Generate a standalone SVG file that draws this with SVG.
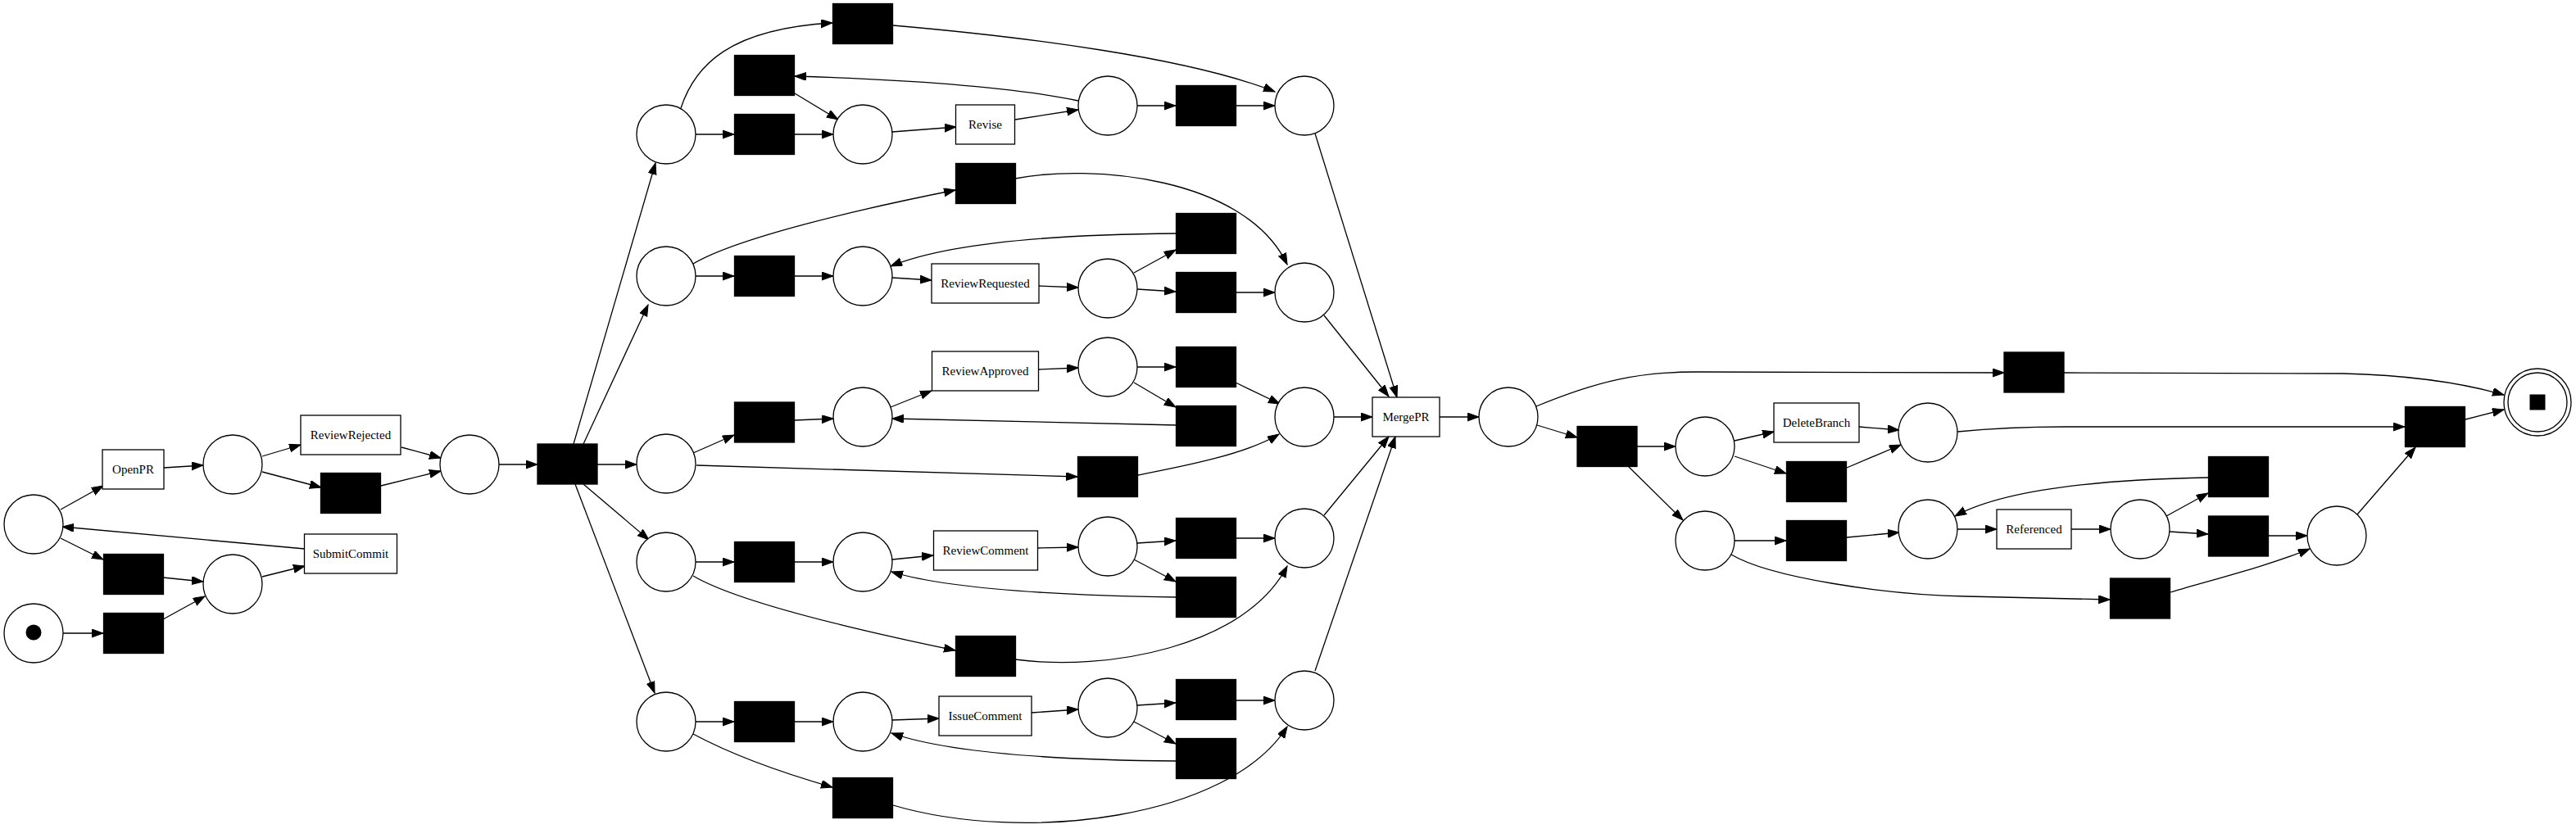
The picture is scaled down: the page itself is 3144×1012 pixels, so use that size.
<svg xmlns="http://www.w3.org/2000/svg" width="3144" height="1012" viewBox="0 0 3144 1012">
<style>
.p{fill:#fff;stroke:#000;stroke-width:1.3}
.t{fill:#fff;stroke:#000;stroke-width:1.3}
.s{fill:#000;stroke:#000;stroke-width:1.3}
.e{fill:none;stroke:#000;stroke-width:1.3;marker-end:url(#ah)}
text{font-family:"Liberation Serif","Times New Roman",serif;font-size:15px;text-anchor:middle;fill:#000}
</style>
<defs>
<marker id="ah" markerUnits="userSpaceOnUse" markerWidth="15" markerHeight="11" refX="14" refY="5" orient="auto">
<path d="M0,0 L14,5 L0,10 Z" fill="#000" stroke="#000" stroke-width="1"/>
</marker>
</defs>
<rect width="3144" height="1012" fill="#fff"/>
<g id="connectors">
<path class="e" d="M74,622 L126,593"/>
<path class="e" d="M200,571 L248,568"/>
<path class="e" d="M320,557 L367,543"/>
<path class="e" d="M320,576 L392,595"/>
<path class="e" d="M490,546 L538,559"/>
<path class="e" d="M465,593 L538,575"/>
<path class="e" d="M609,567 L656,567"/>
<path class="e" d="M372,670 L76,643"/>
<path class="e" d="M74,657 L126,683"/>
<path class="e" d="M199,705 L248,710"/>
<path class="e" d="M77,773 L126,773"/>
<path class="e" d="M199,756 L250,728"/>
<path class="e" d="M320,704 L372,691"/>
<path class="e" d="M700,542 L800,199"/>
<path class="e" d="M712,542 L791,372"/>
<path class="e" d="M729,567 L777,567"/>
<path class="e" d="M712,591 L792,659"/>
<path class="e" d="M702,591 L799,846"/>
<path class="e" d="M831,132 C848,80 890,35 1016,28"/>
<path class="e" d="M1090,31 C1250,45 1450,70 1556,112"/>
<path class="e" d="M849,164 L896,164"/>
<path class="e" d="M970,164 L1017,164"/>
<path class="e" d="M970,114 L1023,146"/>
<path class="e" d="M1316,123 C1230,105 1100,97 970,93"/>
<path class="e" d="M1089,161 L1167,155"/>
<path class="e" d="M1239,146 L1316,134"/>
<path class="e" d="M1388,129 L1435,129"/>
<path class="e" d="M1508,129 L1556,129"/>
<path class="e" d="M846,322 C900,290 1050,255 1166,232"/>
<path class="e" d="M1239,218 C1330,200 1520,215 1571,323"/>
<path class="e" d="M849,337 L896,337"/>
<path class="e" d="M970,337 L1017,337"/>
<path class="e" d="M1089,339 L1137,342"/>
<path class="e" d="M1268,349 L1316,351"/>
<path class="e" d="M1384,333 L1435,305"/>
<path class="e" d="M1388,353 L1435,356"/>
<path class="e" d="M1436,285 C1300,286 1160,295 1087,325"/>
<path class="e" d="M1508,357 L1556,357"/>
<path class="e" d="M1605,163 L1705,485"/>
<path class="e" d="M1616,385 L1695,484"/>
<path class="e" d="M846,553 L896,531"/>
<path class="e" d="M970,513 L1017,511"/>
<path class="e" d="M1087,497 L1137,477"/>
<path class="e" d="M1268,451 L1316,449"/>
<path class="e" d="M1388,448 L1435,448"/>
<path class="e" d="M1384,467 L1435,497"/>
<path class="e" d="M1436,519 L1089,511"/>
<path class="e" d="M1508,467 L1562,493"/>
<path class="e" d="M850,568 L1315,582"/>
<path class="e" d="M1389,580 C1440,570 1520,555 1561,530"/>
<path class="e" d="M1628,509 L1675,509"/>
<path class="e" d="M849,686 L896,686"/>
<path class="e" d="M970,686 L1017,686"/>
<path class="e" d="M1089,683 L1139,678"/>
<path class="e" d="M1266,669 L1316,668"/>
<path class="e" d="M1388,663 L1435,660"/>
<path class="e" d="M1384,683 L1435,710"/>
<path class="e" d="M1436,729 C1300,727 1160,720 1088,698"/>
<path class="e" d="M1508,657 L1556,657"/>
<path class="e" d="M846,703 C900,735 1050,770 1166,794"/>
<path class="e" d="M1239,805 C1350,820 1520,790 1571,691"/>
<path class="e" d="M1616,629 L1695,533"/>
<path class="e" d="M849,881 L896,881"/>
<path class="e" d="M970,881 L1017,881"/>
<path class="e" d="M1089,879 L1146,877"/>
<path class="e" d="M1259,870 L1316,866"/>
<path class="e" d="M1388,861 L1435,858"/>
<path class="e" d="M1384,881 L1435,908"/>
<path class="e" d="M1436,929 C1300,928 1160,920 1088,895"/>
<path class="e" d="M1508,855 L1556,855"/>
<path class="e" d="M846,896 C900,925 960,945 1016,961"/>
<path class="e" d="M1090,983 C1250,1030 1500,1000 1571,887"/>
<path class="e" d="M1605,819 L1703,533"/>
<path class="e" d="M1757,509 L1805,509"/>
<path class="e" d="M1875,496 C1950,465 2000,454 2070,454 L2446,455"/>
<path class="e" d="M2519,455 L2860,456 C2940,458 3000,466 3056,482"/>
<path class="e" d="M1876,519 L1925,534"/>
<path class="e" d="M1998,545 L2045,545"/>
<path class="e" d="M1987,569 L2054,635"/>
<path class="e" d="M2117,538 L2165,527"/>
<path class="e" d="M2117,557 L2180,578"/>
<path class="e" d="M2269,521 L2318,525"/>
<path class="e" d="M2254,571 L2320,543"/>
<path class="e" d="M2389,527 C2430,523 2480,521 2520,521 L2935,521"/>
<path class="e" d="M2117,660 L2180,660"/>
<path class="e" d="M2254,656 L2318,650"/>
<path class="e" d="M2113,677 C2160,705 2300,726 2400,728 L2575,732"/>
<path class="e" d="M2389,646 L2437,646"/>
<path class="e" d="M2528,646 L2576,646"/>
<path class="e" d="M2644,630 L2695,602"/>
<path class="e" d="M2648,649 L2695,652"/>
<path class="e" d="M2695,583 C2580,585 2450,595 2386,630"/>
<path class="e" d="M2768,654 L2816,654"/>
<path class="e" d="M2649,723 C2710,705 2770,690 2819,670"/>
<path class="e" d="M2877,628 L2948,546"/>
<path class="e" d="M3009,512 L3056,500"/>
</g>
<g id="p_a"><circle class="p" cx="41" cy="640" r="36"/></g>
<g id="p_start"><circle class="p" cx="41" cy="773" r="36"/><circle cx="41" cy="772" r="9.5" fill="#000"/></g>
<g id="p2"><circle class="p" cx="284" cy="567" r="36"/></g>
<g id="p3"><circle class="p" cx="573" cy="567" r="36"/></g>
<g id="p4"><circle class="p" cx="284" cy="713" r="36"/></g>
<g id="F1"><circle class="p" cx="813" cy="164" r="36"/></g>
<g id="F2"><circle class="p" cx="813" cy="337" r="36"/></g>
<g id="F3"><circle class="p" cx="813" cy="566" r="36"/></g>
<g id="F4"><circle class="p" cx="813" cy="686" r="36"/></g>
<g id="F5"><circle class="p" cx="813" cy="881" r="36"/></g>
<g id="C1"><circle class="p" cx="1053" cy="164" r="36"/></g>
<g id="C2"><circle class="p" cx="1352" cy="129" r="36"/></g>
<g id="C3"><circle class="p" cx="1053" cy="337" r="36"/></g>
<g id="C4"><circle class="p" cx="1352" cy="352" r="36"/></g>
<g id="C5"><circle class="p" cx="1053" cy="509" r="36"/></g>
<g id="C6"><circle class="p" cx="1352" cy="448" r="36"/></g>
<g id="C7"><circle class="p" cx="1053" cy="686" r="36"/></g>
<g id="C8"><circle class="p" cx="1352" cy="667" r="36"/></g>
<g id="C9"><circle class="p" cx="1053" cy="881" r="36"/></g>
<g id="C10"><circle class="p" cx="1352" cy="864" r="36"/></g>
<g id="J1"><circle class="p" cx="1592" cy="129" r="36"/></g>
<g id="J2"><circle class="p" cx="1592" cy="357" r="36"/></g>
<g id="J3"><circle class="p" cx="1592" cy="509" r="36"/></g>
<g id="J4"><circle class="p" cx="1592" cy="657" r="36"/></g>
<g id="J5"><circle class="p" cx="1592" cy="855" r="36"/></g>
<g id="M1"><circle class="p" cx="1841" cy="509" r="36"/></g>
<g id="D1"><circle class="p" cx="2081" cy="545" r="36"/></g>
<g id="D2"><circle class="p" cx="2353" cy="528" r="36"/></g>
<g id="R1"><circle class="p" cx="2081" cy="660" r="36"/></g>
<g id="R2"><circle class="p" cx="2353" cy="646" r="36"/></g>
<g id="R3"><circle class="p" cx="2612" cy="646" r="36"/></g>
<g id="R4"><circle class="p" cx="2852" cy="654" r="36"/></g>
<g id="p_end"><circle class="p" cx="3097" cy="491" r="41"/><circle class="p" cx="3097" cy="491" r="36"/><rect x="3087.5" y="481.5" width="19" height="19" fill="#000"/></g>
<g id="OpenPR"><rect class="t" x="125" y="549" width="75" height="48"/><text x="162.5" y="578">OpenPR</text></g>
<g id="ReviewRejected"><rect class="t" x="367" y="507" width="122" height="48"/><text x="428" y="536">ReviewRejected</text></g>
<g id="SubmitCommit"><rect class="t" x="371.5" y="652" width="113" height="48"/><text x="428" y="681">SubmitCommit</text></g>
<g id="Revise"><rect class="t" x="1166.5" y="128" width="72" height="48"/><text x="1202.5" y="157">Revise</text></g>
<g id="ReviewRequested"><rect class="t" x="1137" y="322" width="131" height="48"/><text x="1202.5" y="351">ReviewRequested</text></g>
<g id="ReviewApproved"><rect class="t" x="1137.5" y="429" width="130" height="48"/><text x="1202.5" y="458">ReviewApproved</text></g>
<g id="ReviewComment"><rect class="t" x="1139.5" y="648" width="127" height="48"/><text x="1203" y="677">ReviewComment</text></g>
<g id="IssueComment"><rect class="t" x="1146" y="850" width="113" height="48"/><text x="1202.5" y="879">IssueComment</text></g>
<g id="MergePR"><rect class="t" x="1675" y="485" width="82" height="48"/><text x="1716" y="514">MergePR</text></g>
<g id="DeleteBranch"><rect class="t" x="2165" y="492" width="104" height="48"/><text x="2217" y="521">DeleteBranch</text></g>
<g id="Referenced"><rect class="t" x="2437" y="622" width="91" height="48"/><text x="2482.5" y="651">Referenced</text></g>
<g id="tau_rr"><rect class="s" x="391.5" y="577.5" width="73" height="49"/></g>
<g id="tau_b1"><rect class="s" x="126.5" y="676.5" width="73" height="49"/></g>
<g id="tau_b2"><rect class="s" x="126.5" y="748.5" width="73" height="49"/></g>
<g id="T0"><rect class="s" x="656" y="542" width="73" height="49"/></g>
<g id="T1"><rect class="s" x="1016.5" y="4.5" width="73" height="49"/></g>
<g id="T2"><rect class="s" x="896.5" y="67.5" width="73" height="49"/></g>
<g id="T3"><rect class="s" x="896.5" y="139.5" width="73" height="49"/></g>
<g id="T4"><rect class="s" x="1435.5" y="104.5" width="73" height="49"/></g>
<g id="T5"><rect class="s" x="1166.5" y="199.5" width="73" height="49"/></g>
<g id="T6"><rect class="s" x="896.5" y="312.5" width="73" height="49"/></g>
<g id="T7"><rect class="s" x="1435.5" y="260.5" width="73" height="49"/></g>
<g id="T8"><rect class="s" x="1435.5" y="332.5" width="73" height="49"/></g>
<g id="T9"><rect class="s" x="1435.5" y="423.5" width="73" height="49"/></g>
<g id="T10"><rect class="s" x="896.5" y="491" width="73" height="49"/></g>
<g id="T11"><rect class="s" x="1435.5" y="495.5" width="73" height="49"/></g>
<g id="T12"><rect class="s" x="1315.5" y="557.5" width="73" height="49"/></g>
<g id="T13"><rect class="s" x="896.5" y="661.5" width="73" height="49"/></g>
<g id="T14"><rect class="s" x="1435.5" y="632.5" width="73" height="49"/></g>
<g id="T15"><rect class="s" x="1435.5" y="704.5" width="73" height="49"/></g>
<g id="T16"><rect class="s" x="1166.5" y="776.5" width="73" height="49"/></g>
<g id="T17"><rect class="s" x="896.5" y="856.5" width="73" height="49"/></g>
<g id="T18"><rect class="s" x="1435.5" y="829.5" width="73" height="49"/></g>
<g id="T19"><rect class="s" x="1435.5" y="901.5" width="73" height="49"/></g>
<g id="T20"><rect class="s" x="1016.5" y="949.5" width="73" height="49"/></g>
<g id="T21"><rect class="s" x="2446" y="430" width="73" height="49"/></g>
<g id="T22"><rect class="s" x="1925" y="520.5" width="73" height="49"/></g>
<g id="T23"><rect class="s" x="2180.5" y="563.5" width="73" height="49"/></g>
<g id="T24"><rect class="s" x="2180.5" y="635.5" width="73" height="49"/></g>
<g id="T25"><rect class="s" x="2695.5" y="557.5" width="73" height="49"/></g>
<g id="T26"><rect class="s" x="2695.5" y="630" width="73" height="49"/></g>
<g id="T27"><rect class="s" x="2575.5" y="706" width="73" height="49"/></g>
<g id="T28"><rect class="s" x="2935.5" y="496.5" width="73" height="49"/></g>
</svg>
